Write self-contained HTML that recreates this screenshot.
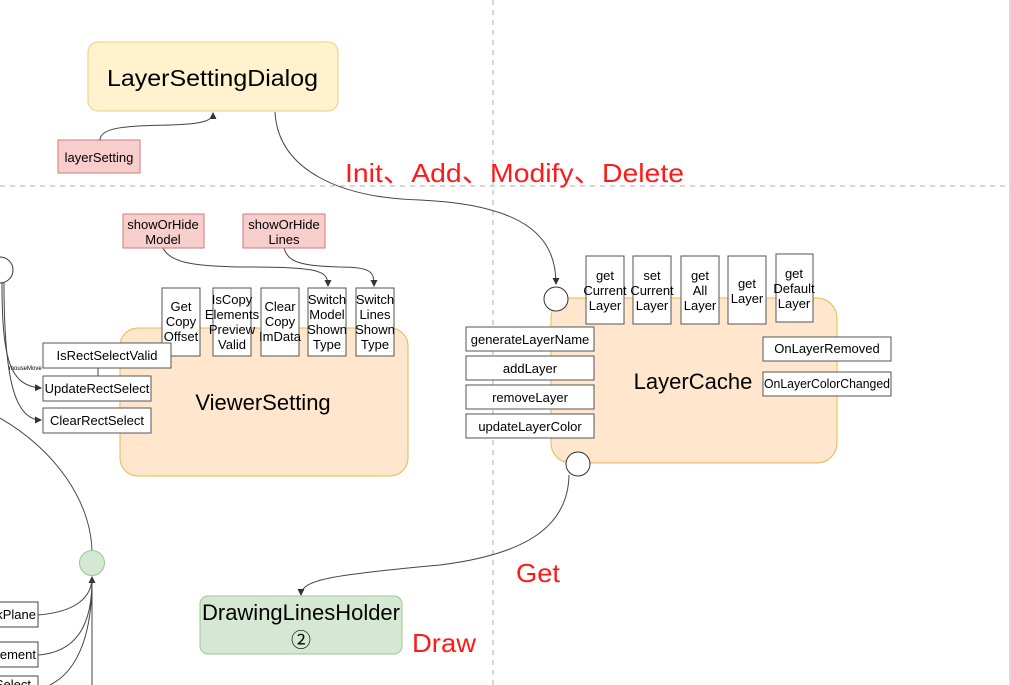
<!DOCTYPE html>
<html><head><meta charset="utf-8"><style>
html,body{margin:0;padding:0;background:#fff;width:1011px;height:685px;overflow:hidden}
svg{display:block}
text{font-family:"Liberation Sans","Noto Sans CJK SC",sans-serif;fill:#000}
.r{fill:#ff1a1a}
</style></head><body>
<svg width="1011" height="685" viewBox="0 0 1011 685" xmlns="http://www.w3.org/2000/svg">
<defs><marker id="a" markerWidth="8" markerHeight="8" refX="6" refY="4" orient="auto" markerUnits="userSpaceOnUse"><path d="M0,0.5 L7,4 L0,7.5 Z" fill="#333"/></marker></defs>
<g stroke="#c8c8c8" stroke-width="1.5" stroke-dasharray="5,5" fill="none">
<line x1="0" y1="186" x2="1011" y2="186"/>
<line x1="493" y1="0" x2="493" y2="685"/>
</g>
<line x1="1010" y1="0" x2="1010" y2="685" stroke="#cfcfcf" stroke-width="1.5"/>

<!-- LayerSettingDialog -->
<rect x="88" y="42" width="250" height="69" rx="10" fill="#fff2cc" stroke="#e8cf80"/>
<text x="107" y="86" font-size="23" textLength="211" lengthAdjust="spacingAndGlyphs">LayerSettingDialog</text>
<rect x="58" y="140" width="82" height="33" fill="#f8cecc" stroke="#d07a78"/>
<text x="99" y="162" font-size="13" text-anchor="middle">layerSetting</text>
<g fill="none" stroke="#444" stroke-width="1">
<path d="M100,140 C100,125 140,126 170,125 C205,124 213,120 213,113" marker-end="url(#a)"/>
<path d="M275,112 C278,170 340,198 420,200 C530,205 556,240 556,284" marker-end="url(#a)"/>
<path d="M163,248 C170,262 190,266 240,267 C320,267 328,270 328,286" marker-end="url(#a)"/>
<path d="M284,248 C288,262 300,266 340,267 C372,267 374,272 374,286" marker-end="url(#a)"/>
<path d="M569,475 C568,530 520,555 440,565 C330,575 301,580 301,595" marker-end="url(#a)"/>
<path d="M2,283 C2,360 10,386 41,388" marker-end="url(#a)"/>
<path d="M4,283 C4,380 15,420 41,420" marker-end="url(#a)"/>
<path d="M0,418 C55,450 90,500 92,550"/>
<path d="M38,615 C75,612 92,598 92,577" marker-end="url(#a)"/>
<path d="M38,655 C80,652 92,620 92,580"/>
<path d="M50,685 C80,670 92,630 92,580"/>
<path d="M92,685 L92,580"/>
<line x1="98" y1="368" x2="98" y2="376"/>
</g>
<text x="345" y="182" class="r" font-size="26" textLength="339" lengthAdjust="spacingAndGlyphs">Init、Add、Modify、Delete</text>

<!-- ViewerSetting -->
<rect x="120" y="328" width="288" height="148" rx="18" fill="#ffe6cc" stroke="#e8b84e"/>
<text x="263" y="410" font-size="22" text-anchor="middle">ViewerSetting</text>
<rect x="123" y="214" width="81" height="34" fill="#f8cecc" stroke="#d07a78"/>
<text x="163" y="229" font-size="13" text-anchor="middle">showOrHide<tspan x="163" dy="15">Model</tspan></text>
<rect x="243" y="214" width="82" height="34" fill="#f8cecc" stroke="#d07a78"/>
<text x="284" y="229" font-size="13" text-anchor="middle">showOrHide<tspan x="284" dy="15">Lines</tspan></text>
<g fill="#fff" stroke="#555">
<rect x="162" y="288" width="38" height="68"/>
<rect x="213" y="288" width="38" height="68"/>
<rect x="261" y="288" width="38" height="68"/>
<rect x="308" y="288" width="38" height="68"/>
<rect x="356" y="288" width="38" height="68"/>
<rect x="43" y="343" width="128" height="25"/>
<rect x="43" y="376" width="108" height="25"/>
<rect x="43" y="408" width="108" height="25"/>
</g>
<g font-size="13" text-anchor="middle">
<text x="181" y="311">Get<tspan x="181" dy="15">Copy</tspan><tspan x="181" dy="15">Offset</tspan></text>
<text x="232" y="304">IsCopy<tspan x="232" dy="15">Elements</tspan><tspan x="232" dy="15">Preview</tspan><tspan x="232" dy="15">Valid</tspan></text>
<text x="280" y="311">Clear<tspan x="280" dy="15">Copy</tspan><tspan x="280" dy="15">ImData</tspan></text>
<text x="327" y="304">Switch<tspan x="327" dy="15">Model</tspan><tspan x="327" dy="15">Shown</tspan><tspan x="327" dy="15">Type</tspan></text>
<text x="375" y="304">Switch<tspan x="375" dy="15">Lines</tspan><tspan x="375" dy="15">Shown</tspan><tspan x="375" dy="15">Type</tspan></text>
<text x="107" y="360">IsRectSelectValid</text>
<text x="97" y="393">UpdateRectSelect</text>
<text x="97" y="425">ClearRectSelect</text>
</g>
<text x="9" y="370" font-size="6" fill="#889">mouseMove</text>
<circle cx="0" cy="270" r="13" fill="#fff" stroke="#333"/>

<!-- LayerCache -->
<rect x="551" y="298" width="286" height="165" rx="20" fill="#ffe6cc" stroke="#e8b84e"/>
<text x="693" y="389" font-size="22" text-anchor="middle">LayerCache</text>
<circle cx="556" cy="299" r="12" fill="#fff" stroke="#333"/>
<circle cx="578" cy="464" r="12" fill="#fff" stroke="#333"/>
<g fill="#fff" stroke="#555">
<rect x="586" y="256" width="38" height="68"/>
<rect x="633" y="256" width="38" height="68"/>
<rect x="681" y="256" width="38" height="68"/>
<rect x="728" y="256" width="38" height="68"/>
<rect x="776" y="254" width="37" height="68"/>
<rect x="466" y="327" width="128" height="24"/>
<rect x="466" y="356" width="128" height="24"/>
<rect x="466" y="385" width="128" height="24"/>
<rect x="466" y="414" width="128" height="24"/>
<rect x="763" y="337" width="128" height="24"/>
<rect x="763" y="372" width="128" height="24"/>
</g>
<g font-size="13" text-anchor="middle">
<text x="605" y="280">get<tspan x="605" dy="15">Current</tspan><tspan x="605" dy="15">Layer</tspan></text>
<text x="652" y="280">set<tspan x="652" dy="15">Current</tspan><tspan x="652" dy="15">Layer</tspan></text>
<text x="700" y="280">get<tspan x="700" dy="15">All</tspan><tspan x="700" dy="15">Layer</tspan></text>
<text x="747" y="288">get<tspan x="747" dy="15">Layer</tspan></text>
<text x="794" y="278">get<tspan x="794" dy="15">Default</tspan><tspan x="794" dy="15">Layer</tspan></text>
<text x="530" y="344">generateLayerName</text>
<text x="530" y="373">addLayer</text>
<text x="530" y="402">removeLayer</text>
<text x="530" y="431">updateLayerColor</text>
<text x="827" y="353">OnLayerRemoved</text>
<text x="827" y="388" textLength="126" lengthAdjust="spacingAndGlyphs">OnLayerColorChanged</text>
</g>

<!-- bottom left -->
<circle cx="92" cy="563" r="12.5" fill="#d5e8d4" stroke="#9cc98e"/>
<g fill="#fff" stroke="#444">
<rect x="-5" y="602" width="43" height="25"/>
<rect x="-5" y="642" width="43" height="25"/>
<rect x="-5" y="676" width="43" height="20"/>
</g>
<g font-size="13" text-anchor="end">
<text x="36" y="619">kPlane</text>
<text x="36" y="659">lement</text>
<text x="31" y="689">Select</text>
</g>

<!-- DrawingLinesHolder -->
<rect x="200" y="596" width="202" height="58" rx="8" fill="#d5e8d4" stroke="#9cc98e"/>
<text x="202" y="620" font-size="22" textLength="198" lengthAdjust="spacingAndGlyphs">DrawingLinesHolder</text>
<text x="301" y="647" font-size="20" text-anchor="middle">②</text>
<text x="516" y="582" class="r" font-size="26" textLength="44" lengthAdjust="spacingAndGlyphs">Get</text>
<text x="412" y="652" class="r" font-size="26" textLength="64" lengthAdjust="spacingAndGlyphs">Draw</text>
</svg>
</body></html>
